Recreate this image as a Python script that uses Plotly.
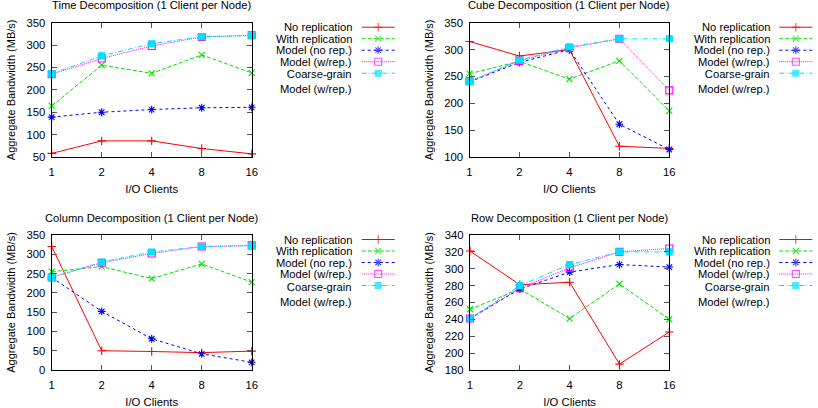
import plotly.graph_objects as go

# ---------------- data ----------------
clients = [1, 2, 4, 8, 16]
series_names = ["No replication", "With replication", "Model (no rep.)",
                "Model (w/rep.)", "Coarse-grain<br>Model (w/rep.)"]

time_no_rep = [58, 86, 86, 69, 57]
time_with_rep = [164, 255, 237, 278, 238]
time_model_no_rep = [139, 150, 156, 160, 161]
time_model_rep = [235, 270, 298, 318, 322]
time_coarse = [236, 276, 303, 319, 321]

cube_no_rep = [315, 288, 300, 120, 116]
cube_with_rep = [255, 278, 245, 279, 186]
cube_model_no_rep = [240, 276, 300, 161, 114]
cube_model_rep = [241, 279, 303, 320, 224]
cube_coarse = [240, 280, 305, 320, 320]

col_no_rep = [320, 50, 48, 45, 49]
col_with_rep = [255, 268, 237, 275, 228]
col_model_no_rep = [240, 152, 81, 42, 20]
col_model_rep = [240, 278, 302, 320, 323]
col_coarse = [240, 280, 306, 320, 322]

row_no_rep = [321, 281, 284, 187, 225]
row_with_rep = [252, 276, 241, 282, 240]
row_model_no_rep = [241, 276, 296, 305, 302]
row_model_rep = [241, 277, 301, 320, 324]
row_coarse = [241, 280, 305, 320, 320]

titles = ["Time Decomposition (1 Client per Node)",
          "Cube Decomposition (1 Client per Node)",
          "Column Decomposition (1 Client per Node)",
          "Row Decomposition (1 Client per Node)"]
y_ranges = [(50, 350, 50), (100, 350, 50), (0, 350, 50), (180, 340, 20)]
panels = [
    [time_no_rep, time_with_rep, time_model_no_rep, time_model_rep, time_coarse],
    [cube_no_rep, cube_with_rep, cube_model_no_rep, cube_model_rep, cube_coarse],
    [col_no_rep, col_with_rep, col_model_no_rep, col_model_rep, col_coarse],
    [row_no_rep, row_with_rep, row_model_no_rep, row_model_rep, row_coarse],
]

# ---------------- styles ----------------
W, H = 818, 408
colors = ["#ff0000", "#00e000", "#0000ff", "#ff00ff", "#00e0ff"]
dashes = ["solid", "4px,2px", "3px,3px", "1px,1px", "5px,2px,1px,2px"]
symbols = ["cross-thin", "x-thin", "asterisk", "square-open", "square"]
msizes = [6, 6, 6.5, 7, 6]
FONT = "Liberation Sans, Arial, sans-serif"

# panel pixel boxes (left, right, top, bottom)
boxes = [(51.7, 251.7, 22.7, 157.0), (469.5, 669.3, 22.7, 157.0),
         (51.7, 251.7, 235.0, 370.0), (470.0, 669.3, 235.0, 370.0)]

fig = go.Figure()
layout = dict(width=W, height=H, margin=dict(l=0, r=0, t=0, b=0, pad=0),
              paper_bgcolor="white", plot_bgcolor="rgba(0,0,0,0)",
              font=dict(family=FONT, size=11, color="black"),
              showlegend=False, annotations=[])

for p, (vals_list, box, yr, title) in enumerate(zip(panels, boxes, y_ranges, titles)):
    idx = "" if p == 0 else str(p + 1)
    xl, xr, yt, yb = box
    xd = [xl / W, xr / W]
    yd = [1 - yb / H, 1 - yt / H]
    for s, vals in enumerate(vals_list):
        fig.add_trace(go.Scatter(
            x=clients, y=vals, mode="lines+markers", name=series_names[s],
            xaxis="x" + idx, yaxis="y" + idx,
            line=dict(color=colors[s], width=1, dash=dashes[s]),
            marker=dict(symbol=symbols[s], size=msizes[s], color=colors[s],
                        line=dict(color=colors[s], width=1.1)),
            cliponaxis=False))
    layout["xaxis" + idx] = dict(
        domain=xd, anchor="y" + idx, type="log", automargin=False,
        range=[0, 1.20412], tickvals=clients, ticktext=[str(c) for c in clients],
        ticks="inside", ticklen=5, tickcolor="#555", showline=True,
        linecolor="black", linewidth=1.3, mirror="ticks", showgrid=False,
        zeroline=False, tickfont=dict(size=11.3), ticklabelstandoff=4,
        title=dict(text="I/O Clients", font=dict(size=11.3), standoff=8))
    layout["yaxis" + idx] = dict(
        domain=yd, anchor="x" + idx, range=[yr[0], yr[1]], dtick=yr[2],
        tick0=yr[0], ticks="inside", ticklen=5, tickcolor="#555",
        automargin=False, ticklabelstandoff=3,
        showline=True, linecolor="black", linewidth=1.3, mirror="ticks",
        showgrid=False, zeroline=False, tickfont=dict(size=11.3),
        title=dict(text="Aggregate Bandwidth (MB/s)", font=dict(size=11),
                   standoff=8))
    layout["annotations"].append(dict(
        text=title, x=(xl + xr) / 2 / W, y=1 - (yt - 17.5) / H,
        xref="paper", yref="paper", xanchor="center", yanchor="middle",
        showarrow=False, font=dict(size=11.2)))

    # custom gnuplot-style key: text on left, sample on right
    key_text_x = xr + 102.5
    key_line = (xr + 110, xr + 143)
    for s in range(5):
        ky = yt + 4.5 + s * 11.5
        layout["annotations"].append(dict(
            text=series_names[s], x=key_text_x / W, y=1 - ky / H,
            xref="paper", yref="paper", xanchor="right",
            yanchor="top" if s == 4 else "middle",
            yshift=7 if s == 4 else 0, align="right",
            showarrow=False, font=dict(size=11.2)))
        fig.add_trace(go.Scatter(
            x=[key_line[0], (key_line[0] + key_line[1]) / 2, key_line[1]],
            y=[ky, ky, ky], mode="lines+markers", xaxis="x5", yaxis="y5",
            line=dict(color=colors[s], width=1, dash=dashes[s]),
            marker=dict(symbol=symbols[s], size=[0, msizes[s], 0],
                        color=colors[s], line=dict(color=colors[s], width=1.1)),
            hoverinfo="skip"))

layout["xaxis5"] = dict(domain=[0, 1], range=[0, W], visible=False,
                        anchor="y5", fixedrange=True, automargin=False)
layout["yaxis5"] = dict(domain=[0, 1], range=[H, 0], visible=False,
                        anchor="x5", fixedrange=True, automargin=False)
fig.update_layout(**layout)
fig.write_html("out.html")
